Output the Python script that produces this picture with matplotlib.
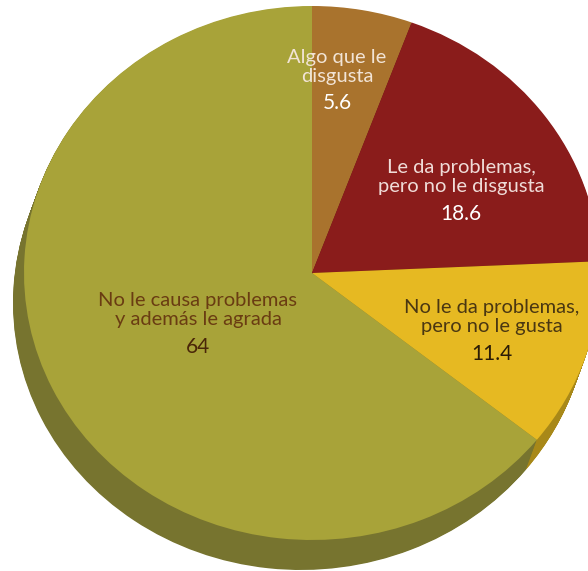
import numpy as np
import matplotlib
matplotlib.use("Agg")
import matplotlib.pyplot as plt

# data
categories = ["Algo que le\ndisgusta",
              "Le da problemas,\npero no le disgusta",
              "No le da problemas,\npero no le gusta",
              "No le causa problemas\ny además le agrada"]
values = [5.6, 18.6, 11.4, 64]
value_labels = ["5.6", "18.6", "11.4", "64"]

top_colors = ["#a9732d", "#8a1c1b", "#e6b922", "#a8a339"]
side_colors = ["#7e5520", "#5e1414", "#a88818", "#77742f"]
label_colors = ["#f2e4d6", "#f0dcd8", "#4a3712", "#6a3c12"]
num_colors = ["#ffffff", "#ffffff", "#2b1c06", "#4a2608"]

# layout in pixels of the reference
W, H = 588, 571
cx, cy, rx, ry = 312, 273, 288, 267
label_px = [(337, 67), (461, 177), (492, 317), (198, 310)]
num_px = [(337, 103), (461, 214), (492, 354), (198, 347)]


def to_data(x, y):
    return (x - cx) / rx, (cy - y) / ry


plt.rcParams['font.family'] = ['Lato', 'DejaVu Sans']

fig = plt.figure(figsize=(W / 100, H / 100), dpi=100)
ax = fig.add_axes([0, 0, 1, 1])

# depth of the disc: stack of shifted copies
off_x, off_y = -11 / rx, -30 / ry
n = 40
for k in range(n, 0, -1):
    t = k / n
    ax.pie(values, startangle=90, counterclock=False, colors=side_colors,
           center=(off_x * t, off_y * t), radius=1,
           wedgeprops=dict(linewidth=0))

ax.pie(values, startangle=90, counterclock=False, colors=top_colors,
       radius=1, wedgeprops=dict(linewidth=0))

for i in range(len(values)):
    lx, ly = to_data(*label_px[i])
    ax.text(lx, ly, categories[i], ha="center", va="center", fontsize=14.5,
            color=label_colors[i], linespacing=1.2)
    nx, ny = to_data(*num_px[i])
    ax.text(nx, ny, value_labels[i], ha="center", va="center", fontsize=15,
            color=num_colors[i])

ax.set_aspect("auto")
ax.set_xlim((0 - cx) / rx, (W - cx) / rx)
ax.set_ylim((cy - H) / ry, (cy - 0) / ry)
ax.axis("off")

fig.savefig("out.png", dpi=100)
